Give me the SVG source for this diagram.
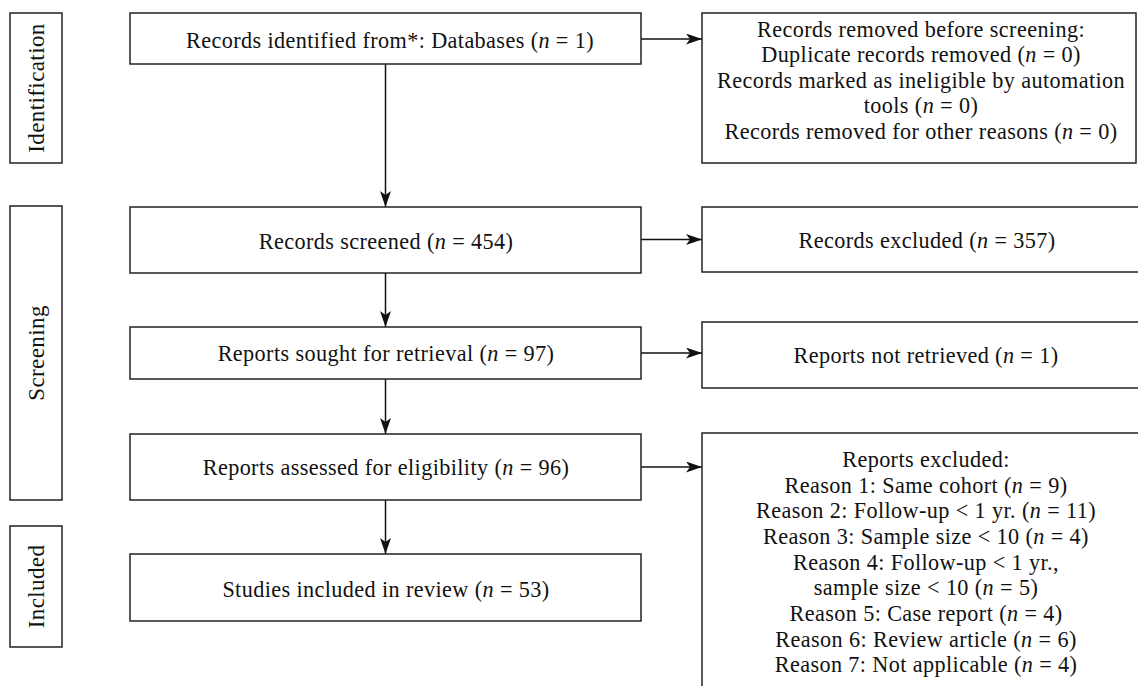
<svg xmlns="http://www.w3.org/2000/svg" width="1138" height="686" viewBox="0 0 1138 686">
<style>
.box{fill:#fff;stroke:#222;stroke-width:1.5}
.t{font-family:"Liberation Serif","Times New Roman",serif;font-size:22.2px;letter-spacing:0.4px;fill:#111;text-anchor:middle}
.ph{font-family:"Liberation Serif","Times New Roman",serif;font-size:23px;letter-spacing:0.4px;fill:#111;text-anchor:middle}
.i{font-style:italic}
.c{fill:none;stroke:#111;stroke-width:1.5}
</style>
<defs>
<marker id="ah" markerUnits="userSpaceOnUse" markerWidth="18" markerHeight="12" refX="16" refY="5.5" orient="auto">
<path d="M0,0 L16,5.5 L0,11 L4,5.5 z" fill="#111"/>
</marker>
</defs>
<rect width="1138" height="686" fill="#fff"/>
<g id="phase-identification">
<rect class="box" x="10" y="13" width="52" height="150"/>
<text class="ph" transform="translate(43.5,88) rotate(-90)">Identification</text>
</g>
<g id="phase-screening">
<rect class="box" x="10" y="206" width="52" height="294"/>
<text class="ph" transform="translate(43.5,353) rotate(-90)">Screening</text>
</g>
<g id="phase-included">
<rect class="box" x="10" y="526" width="52" height="121"/>
<text class="ph" transform="translate(43.5,586.5) rotate(-90)">Included</text>
</g>
<g id="connectors">
<line class="c" x1="641" y1="39" x2="702" y2="39" marker-end="url(#ah)"/>
<line class="c" x1="641" y1="239.5" x2="702" y2="239.5" marker-end="url(#ah)"/>
<line class="c" x1="641" y1="353" x2="702" y2="353" marker-end="url(#ah)"/>
<line class="c" x1="641" y1="467" x2="702" y2="467" marker-end="url(#ah)"/>
<line class="c" x1="385.5" y1="64" x2="385.5" y2="207" marker-end="url(#ah)"/>
<line class="c" x1="385.5" y1="273" x2="385.5" y2="327" marker-end="url(#ah)"/>
<line class="c" x1="385.5" y1="379" x2="385.5" y2="434" marker-end="url(#ah)"/>
<line class="c" x1="385.5" y1="500" x2="385.5" y2="554" marker-end="url(#ah)"/>
</g>
<g id="identified">
<rect class="box" x="130" y="13" width="511" height="51"/>
<text class="t" x="390" y="48">Records identified from*: Databases (<tspan class="i">n</tspan> = 1)</text>
</g>
<g id="removed">
<rect class="box" x="702" y="13" width="434" height="150"/>
<text class="t" x="921" y="37">Records removed before screening:</text>
<text class="t" x="921" y="62">Duplicate records removed (<tspan class="i">n</tspan> = 0)</text>
<text class="t" x="921" y="87.5">Records marked as ineligible by automation</text>
<text class="t" x="921" y="113">tools (<tspan class="i">n</tspan> = 0)</text>
<text class="t" x="921" y="138.5">Records removed for other reasons (<tspan class="i">n</tspan> = 0)</text>
</g>
<g id="screened">
<rect class="box" x="130" y="207" width="511" height="66"/>
<text class="t" x="386" y="249">Records screened (<tspan class="i">n</tspan> = 454)</text>
</g>
<g id="excluded">
<rect class="box" x="702" y="207" width="460" height="65"/>
<text class="t" x="927" y="248">Records excluded (<tspan class="i">n</tspan> = 357)</text>
</g>
<g id="sought">
<rect class="box" x="130" y="327" width="511" height="52"/>
<text class="t" x="386" y="361">Reports sought for retrieval (<tspan class="i">n</tspan> = 97)</text>
</g>
<g id="not-retrieved">
<rect class="box" x="702" y="322" width="460" height="66"/>
<text class="t" x="926" y="363">Reports not retrieved (<tspan class="i">n</tspan> = 1)</text>
</g>
<g id="assessed">
<rect class="box" x="130" y="434" width="511" height="66"/>
<text class="t" x="386" y="475">Reports assessed for eligibility (<tspan class="i">n</tspan> = 96)</text>
</g>
<g id="reports-excluded">
<rect class="box" x="702" y="433" width="460" height="280"/>
<text class="t" x="926" y="467">Reports excluded:</text>
<text class="t" x="926" y="492.7">Reason 1: Same cohort (<tspan class="i">n</tspan> = 9)</text>
<text class="t" x="926" y="518.3">Reason 2: Follow-up &lt; 1 yr. (<tspan class="i">n</tspan> = 11)</text>
<text class="t" x="926" y="544">Reason 3: Sample size &lt; 10 (<tspan class="i">n</tspan> = 4)</text>
<text class="t" x="926" y="569.6">Reason 4: Follow-up &lt; 1 yr.,</text>
<text class="t" x="926" y="595.3">sample size &lt; 10 (<tspan class="i">n</tspan> = 5)</text>
<text class="t" x="926" y="621">Reason 5: Case report (<tspan class="i">n</tspan> = 4)</text>
<text class="t" x="926" y="646.6">Reason 6: Review article (<tspan class="i">n</tspan> = 6)</text>
<text class="t" x="926" y="672.3">Reason 7: Not applicable (<tspan class="i">n</tspan> = 4)</text>
</g>
<g id="included">
<rect class="box" x="130" y="554" width="511" height="67"/>
<text class="t" x="386" y="596.5">Studies included in review (<tspan class="i">n</tspan> = 53)</text>
</g>
</svg>
